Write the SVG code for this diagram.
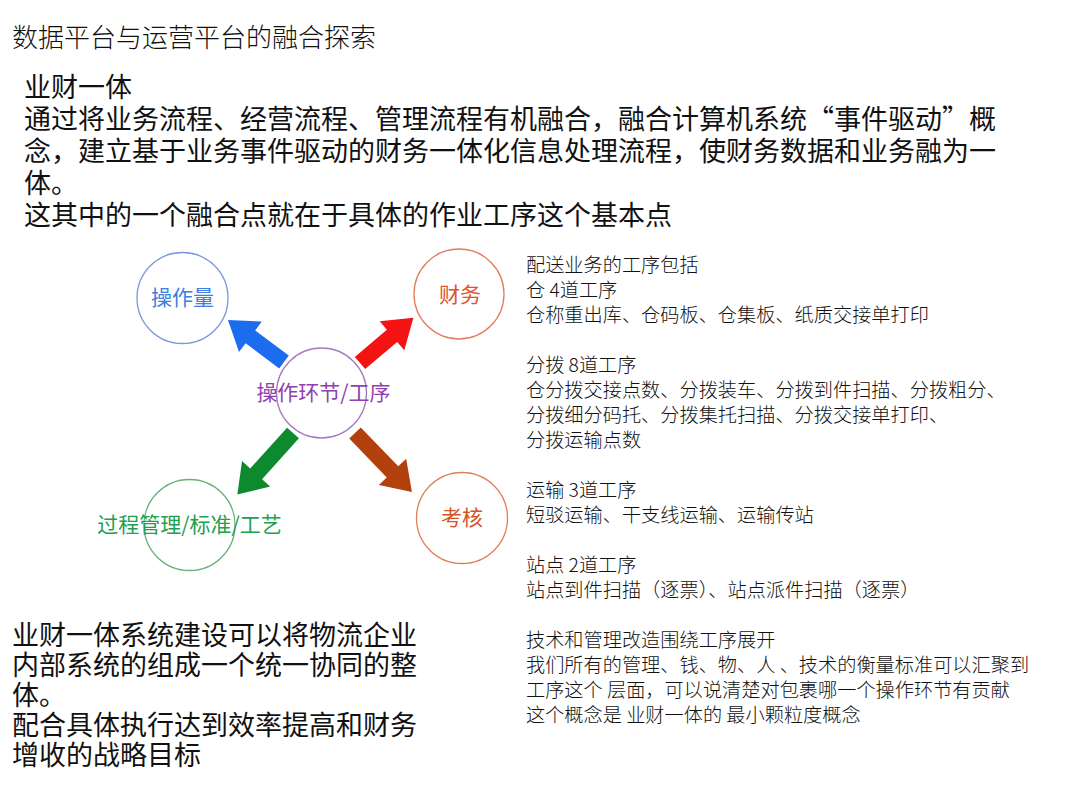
<svg xmlns="http://www.w3.org/2000/svg" width="1080" height="810" viewBox="0 0 1080 810">
<style>
text{font-family:"Noto Sans CJK SC","Microsoft YaHei",sans-serif;fill:#111}
.title{font-size:26px;font-weight:300}
.body{font-size:27px}
.side{font-size:19.2px;font-weight:300}
.node circle{fill:#fff;stroke-width:1.3}
.node text{font-size:20px;text-anchor:middle}
</style>
<rect width="1080" height="810" fill="#fff"/>
<text class="title" x="12" y="47">数据平台与运营平台的融合探索</text>
<g class="body">
<text x="24" y="97">业财一体</text>
<text x="24" y="129">通过将业务流程、经营流程、管理流程有机融合，融合计算机系统“事件驱动”概</text>
<text x="24" y="161">念，建立基于业务事件驱动的财务一体化信息处理流程，使财务数据和业务融为一</text>
<text x="24" y="193">体。</text>
<text x="24" y="225">这其中的一个融合点就在于具体的作业工序这个基本点</text>
</g>
<g class="body">
<text x="12" y="645">业财一体系统建设可以将物流企业</text>
<text x="12" y="675">内部系统的组成一个统一协同的整</text>
<text x="12" y="705">体。</text>
<text x="12" y="735">配合具体执行达到效率提高和财务</text>
<text x="12" y="765">增收的战略目标</text>
</g>
<g class="side">
<text x="526" y="272">配送业务的工序包括</text>
<text x="526" y="297">仓 4道工序</text>
<text x="526" y="322">仓称重出库、仓码板、仓集板、纸质交接单打印</text>
<text x="526" y="372">分拨 8道工序</text>
<text x="526" y="397">仓分拨交接点数、分拨装车、分拨到件扫描、分拨粗分、</text>
<text x="526" y="422">分拨细分码托、分拨集托扫描、分拨交接单打印、</text>
<text x="526" y="447">分拨运输点数</text>
<text x="526" y="497">运输 3道工序</text>
<text x="526" y="522">短驳运输、干支线运输、运输传站</text>
<text x="526" y="572">站点 2道工序</text>
<text x="526" y="597">站点到件扫描（逐票）、站点派件扫描（逐票）</text>
<text x="526" y="647">技术和管理改造围绕工序展开</text>
<text x="526" y="672">我们所有的管理、钱、物、人 、技术的衡量标准可以汇聚到</text>
<text x="526" y="697">工序这个 层面，可以说清楚对包裹哪一个操作环节有贡献</text>
<text x="526" y="722">这个概念是 业财一体的 最小颗粒度概念</text>
</g>
<g id="connectors">
<path transform="translate(284,362) rotate(-143.13)" d="M0,-8 L42,-8 L42,-19 L70,0 L42,19 L42,8 L0,8 Z" fill="#1c6cf0"/>
<path transform="translate(360,363) rotate(-40.3)" d="M0,-8 L42,-8 L42,-19 L70,0 L42,19 L42,8 L0,8 Z" fill="#f41212"/>
<path transform="translate(293,433) rotate(132.1)" d="M0,-8 L55,-8 L55,-19 L83,0 L55,19 L55,8 L0,8 Z" fill="#0e8a2e"/>
<path transform="translate(355,433) rotate(46)" d="M0,-8 L54,-8 L54,-19 L82,0 L54,19 L54,8 L0,8 Z" fill="#b3410e"/>
</g>
<g id="node-caozuoliang" class="node">
<circle cx="182.5" cy="298" r="45.5" stroke="#7b98dc"/>
<text x="182.5" y="305" style="fill:#3d7ee0;font-size:21px">操作量</text>
</g>
<g id="node-caiwu" class="node">
<circle cx="459" cy="294" r="45" stroke="#e27b5f"/>
<text x="460" y="302" style="fill:#e4502a;font-size:21px">财务</text>
</g>
<g id="node-center" class="node">
<circle cx="321.5" cy="393" r="45" stroke="#a57bc0"/>
<text x="323.5" y="400" style="fill:#9040b0;font-size:21px">操作环节/工序</text>
</g>
<g id="node-guocheng" class="node">
<circle cx="189.5" cy="525" r="45.5" stroke="#6aae7c"/>
<text x="189.5" y="532" style="fill:#21a050;font-size:21px">过程管理/标准/工艺</text>
</g>
<g id="node-kaohe" class="node">
<circle cx="462" cy="518" r="45.5" stroke="#e0805a"/>
<text x="462" y="525" style="fill:#d4551f;font-size:21px">考核</text>
</g>
</svg>
